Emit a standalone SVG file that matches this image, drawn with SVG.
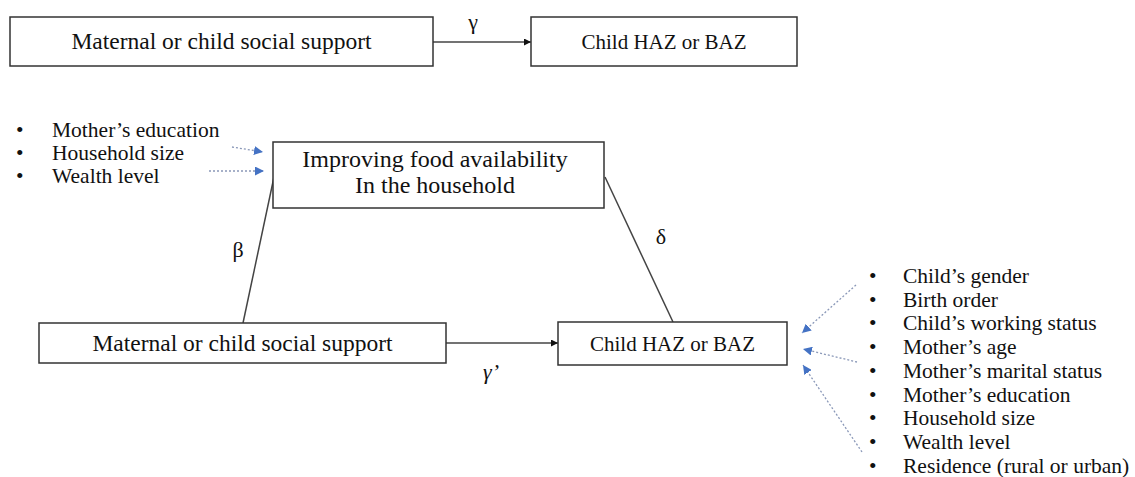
<svg xmlns="http://www.w3.org/2000/svg" width="1135" height="477" viewBox="0 0 1135 477">
<style>
.box{fill:#fff;stroke:#333;stroke-width:1.5}
.bt{font-family:"Liberation Serif","Times New Roman",serif;fill:#111;text-anchor:middle}
.li{font-family:"Liberation Serif","Times New Roman",serif;font-size:21.5px;fill:#111}
.gr{font-family:"Liberation Serif","DejaVu Serif",serif;font-size:22px;fill:#111;text-anchor:middle}
.solid{stroke:#444;stroke-width:1.5;fill:none}
.dot{stroke:#8a98b8;stroke-width:1.3;stroke-dasharray:2 2;fill:none}
</style>
<defs>
<marker id="ah" viewBox="0 0 10 10" refX="10" refY="5" markerWidth="7" markerHeight="7" markerUnits="userSpaceOnUse" orient="auto"><path d="M0,0 L10,5 L0,10 z" fill="#111"/></marker>
<marker id="bh" viewBox="0 0 10 10" refX="10" refY="5" markerWidth="9" markerHeight="9" markerUnits="userSpaceOnUse" orient="auto"><path d="M0,0 L10,5 L0,10 z" fill="#4472c4"/></marker>
</defs>
<rect width="1135" height="477" fill="#fff"/>

<g id="connectors">
<line class="solid" x1="433" y1="42" x2="531" y2="42" marker-end="url(#ah)"/>
<line class="solid" x1="446" y1="343" x2="558" y2="343" marker-end="url(#ah)"/>
<line class="solid" x1="274" y1="177" x2="243" y2="323"/>
<line class="solid" x1="605" y1="177" x2="673" y2="322"/>
<line class="dot" x1="232" y1="147" x2="263" y2="152" marker-end="url(#bh)"/>
<line class="dot" x1="209" y1="171" x2="264" y2="171" marker-end="url(#bh)"/>
<line class="dot" x1="856" y1="285" x2="802" y2="333" marker-end="url(#bh)"/>
<line class="dot" x1="857" y1="362" x2="803" y2="349" marker-end="url(#bh)"/>
<line class="dot" x1="862" y1="452" x2="803" y2="365" marker-end="url(#bh)"/>
<text class="gr" x="473" y="29">γ</text>
<text class="gr" x="238" y="257">β</text>
<text class="gr" x="661" y="244">δ</text>
<text class="gr" x="491" y="379" font-style="italic">γ’</text>
</g>

<g id="support-top">
<rect class="box" x="10" y="17" width="423" height="49"/>
<text class="bt" x="221.5" y="49" font-size="23.5">Maternal or child social support</text>
</g>
<g id="outcome-top">
<rect class="box" x="531" y="17" width="266" height="49"/>
<text class="bt" x="664" y="49" font-size="21">Child HAZ or BAZ</text>
</g>
<g id="food">
<rect class="box" x="273" y="142" width="331" height="66"/>
<text class="bt" x="435" y="167" font-size="24">Improving food availability</text>
<text class="bt" x="435" y="193" font-size="24">In the household</text>
</g>
<g id="support-bottom">
<rect class="box" x="39" y="323" width="407" height="40"/>
<text class="bt" x="242.5" y="351" font-size="23.5">Maternal or child social support</text>
</g>
<g id="outcome-bottom">
<rect class="box" x="558" y="322" width="229" height="43"/>
<text class="bt" x="672.5" y="351" font-size="21">Child HAZ or BAZ</text>
</g>

<g id="food-covariates">
<text class="li" x="16" y="137">•</text><text class="li" x="52" y="137">Mother’s education</text>
<text class="li" x="16" y="160">•</text><text class="li" x="52" y="160">Household size</text>
<text class="li" x="16" y="183">•</text><text class="li" x="52" y="183">Wealth level</text>
</g>

<g id="outcome-covariates">
<text class="li" x="869" y="283">•</text><text class="li" x="903" y="283">Child’s gender</text>
<text class="li" x="869" y="307">•</text><text class="li" x="903" y="307">Birth order</text>
<text class="li" x="869" y="330">•</text><text class="li" x="903" y="330">Child’s working status</text>
<text class="li" x="869" y="354">•</text><text class="li" x="903" y="354">Mother’s age</text>
<text class="li" x="869" y="378">•</text><text class="li" x="903" y="378">Mother’s marital status</text>
<text class="li" x="869" y="402">•</text><text class="li" x="903" y="402">Mother’s education</text>
<text class="li" x="869" y="425">•</text><text class="li" x="903" y="425">Household size</text>
<text class="li" x="869" y="449">•</text><text class="li" x="903" y="449">Wealth level</text>
<text class="li" x="869" y="473">•</text><text class="li" x="903" y="473">Residence (rural or urban)</text>
</g>
</svg>
